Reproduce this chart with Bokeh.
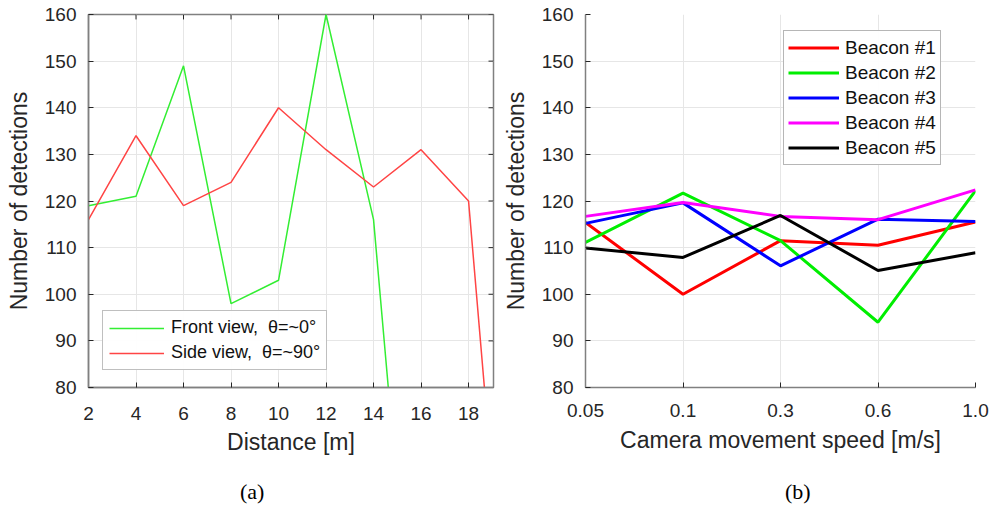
from bokeh.plotting import figure
from bokeh.layouts import row, column
from bokeh.models import Range1d, FixedTicker, Legend, LegendItem, Div
from bokeh.embed import file_html
from bokeh.resources import INLINE

# ---------------- data ----------------
distance = [2, 4, 6, 8, 10, 12, 14, 16, 18, 20]
front_view = [119, 121, 149, 98, 103, 160, 116, 0, 0, 0]
side_view = [116, 134, 119, 124, 140, 131, 123, 131, 120, 0]
distance_ticks = [2, 4, 6, 8, 10, 12, 14, 16, 18]
count_ticks = [80, 90, 100, 110, 120, 130, 140, 150, 160]

speeds = ["0.05", "0.1", "0.3", "0.6", "1.0"]
beacon1 = [115.4, 100.0, 111.5, 110.5, 115.5]
beacon2 = [111.1, 121.7, 111.5, 94.0, 122.2]
beacon3 = [115.2, 119.6, 106.1, 116.1, 115.6]
beacon4 = [116.7, 119.7, 116.7, 116.0, 122.4]
beacon5 = [109.9, 107.9, 116.9, 105.1, 108.9]
beacon_names = ["Beacon #1", "Beacon #2", "Beacon #3", "Beacon #4", "Beacon #5"]
beacon_colors = ["#ff0000", "#00ee00", "#0000ff", "#ff00ff", "#000000"]

captions = ["(a)", "(b)"]

FONT = "Liberation Sans"
TXT = "#262626"
AXC = "#808080"
GRID = "#e6e6e6"
FRONT_COLOR = "#33ee33"
SIDE_COLOR = "#ff4444"


def style_axis(ax):
    ax.axis_line_color = AXC
    ax.axis_line_width = 1.5
    ax.major_tick_in = 5
    ax.major_tick_out = 0
    ax.minor_tick_line_color = None
    ax.major_tick_line_color = TXT
    ax.major_label_text_font = FONT
    ax.major_label_text_color = TXT
    ax.major_label_text_font_size = "19px"
    ax.axis_label_text_font = FONT
    ax.axis_label_text_font_size = "23px"
    ax.axis_label_text_font_style = "normal"
    ax.axis_label_text_color = TXT


# ---------------- panel (a) ----------------
p1 = figure(width=497, height=470, x_range=Range1d(2, 19.05), y_range=Range1d(80, 160),
            output_backend="svg", toolbar_location=None,
            min_border_left=88, min_border_right=4, min_border_top=13, min_border_bottom=79)
p1.outline_line_color = AXC
p1.outline_line_width = 1.5

p1.xaxis.ticker = FixedTicker(ticks=distance_ticks)
p1.yaxis.ticker = FixedTicker(ticks=count_ticks)
p1.xgrid.ticker = FixedTicker(ticks=distance_ticks)
p1.ygrid.ticker = FixedTicker(ticks=count_ticks)
p1.grid.grid_line_color = GRID
p1.xaxis.axis_label = "Distance [m]"
p1.yaxis.axis_label = "Number of detections"
style_axis(p1.xaxis[0])
style_axis(p1.yaxis[0])
p1.xaxis.major_label_standoff = 19
p1.xaxis.axis_label_standoff = 6
p1.yaxis.major_label_standoff = 12
p1.yaxis.axis_label_standoff = 10

# mirrored (box) ticks on the top and right edges, at the same tick values
tick_dx = 0.21   # ~5 px in x data units
tick_dy = 1.06   # ~5 px in y data units
p1.segment(x0=distance_ticks, y0=[160] * len(distance_ticks),
           x1=distance_ticks, y1=[160 - tick_dy] * len(distance_ticks),
           line_color=TXT, line_width=1)
p1.segment(x0=[19.05] * len(count_ticks), y0=count_ticks,
           x1=[19.05 - tick_dx] * len(count_ticks), y1=count_ticks,
           line_color=TXT, line_width=1)

r_front = p1.line(x=distance, y=front_view, line_color=FRONT_COLOR, line_width=1.5)
r_side = p1.line(x=distance, y=side_view, line_color=SIDE_COLOR, line_width=1.5)

leg1 = Legend(items=[LegendItem(label="Front view,  \u03b8=~0\u00b0", renderers=[r_front]),
                     LegendItem(label="Side view,  \u03b8=~90\u00b0", renderers=[r_side])],
              location=(14, 17), glyph_width=55, glyph_height=20, label_height=20,
              spacing=4, padding=6, margin=0, label_standoff=7,
              border_line_color=AXC, border_line_width=1.2,
              label_text_font=FONT, label_text_font_size="18px", label_text_color="#111111")
p1.add_layout(leg1)

# ---------------- panel (b) ----------------
xs = list(range(len(speeds)))
p2 = figure(width=495, height=470, x_range=Range1d(0, len(speeds) - 1), y_range=Range1d(80, 160),
            output_backend="svg", toolbar_location=None,
            min_border_left=88, min_border_right=17, min_border_top=14, min_border_bottom=83)
p2.outline_line_color = None
p2.xaxis.ticker = FixedTicker(ticks=xs)
p2.xaxis.major_label_overrides = {i: s for i, s in enumerate(speeds)}
p2.yaxis.ticker = FixedTicker(ticks=count_ticks)
p2.xgrid.ticker = FixedTicker(ticks=xs)
p2.ygrid.ticker = FixedTicker(ticks=count_ticks)
p2.grid.grid_line_color = GRID
p2.xaxis.axis_label = "Camera movement speed [m/s]"
p2.yaxis.axis_label = "Number of detections"
style_axis(p2.xaxis[0])
style_axis(p2.yaxis[0])
p2.xaxis.major_label_standoff = 16
p2.xaxis.axis_label_standoff = 7
p2.yaxis.major_label_standoff = 12
p2.yaxis.axis_label_standoff = 10

items = []
for name, col, vals in zip(beacon_names, beacon_colors,
                           [beacon1, beacon2, beacon3, beacon4, beacon5]):
    r = p2.line(xs, vals, line_color=col, line_width=3)
    items.append(LegendItem(label=name, renderers=[r]))

leg2 = Legend(items=items, location=(198, 222), glyph_width=51, glyph_height=25,
              label_height=25, spacing=0, padding=4, margin=0, label_standoff=6,
              border_line_color="#6e6e6e", border_line_width=1.2,
              label_text_font=FONT, label_text_font_size="19px", label_text_color="#111111")
p2.add_layout(leg2)

# ---------------- captions ----------------
def caption(text, width, left):
    html = ('<div style="margin-left:%dpx;margin-top:9px;font-family:\'Liberation Serif\';'
            'font-size:22px;line-height:26px;color:#000000;white-space:nowrap">%s</div>' % (left, text))
    return Div(text=html, width=width, height=40, margin=0)


cap_a = caption(captions[0], 497, 240)
cap_b = caption(captions[1], 495, 288)

layout = column(row(p1, p2), row(cap_a, cap_b))
open("out.html", "w").write(file_html(layout, INLINE))
